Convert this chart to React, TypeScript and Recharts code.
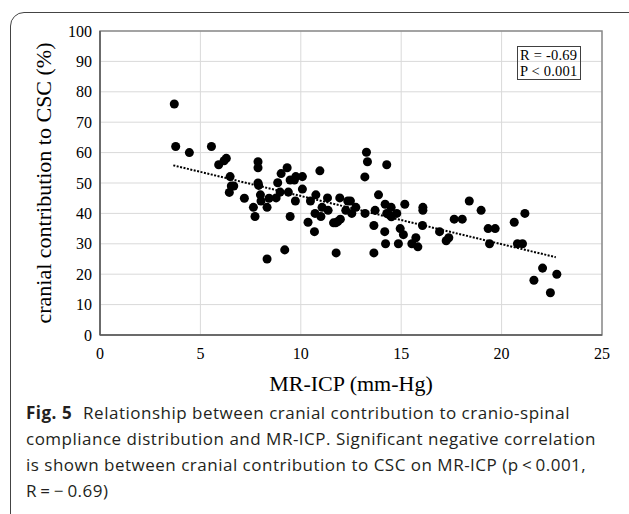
import {
  ScatterChart,
  Scatter,
  XAxis,
  YAxis,
  ZAxis,
  CartesianGrid,
  ReferenceArea,
  ReferenceLine,
  Label,
} from "recharts";

// MR-ICP (mm-Hg) per patient
const icpValues = [
  3.7, 3.77, 4.45, 5.55, 5.91, 6.18, 6.29, 6.48, 6.54, 6.66, 6.44, 7.19, 7.64, 7.72,
  7.87, 7.87, 7.87, 7.9, 7.99, 8.02, 8.32, 8.42, 8.32, 8.77, 8.85, 9.02, 8.97, 9.32,
  9.38, 9.47, 9.2, 9.47, 9.68, 9.75, 10.08, 9.73, 10.08, 10.36, 10.48, 10.68, 10.71,
  10.75, 10.95, 11.0, 11.06, 11.33, 11.36, 11.63, 11.74, 11.84, 11.97, 11.76, 11.94,
  12.24, 12.34, 12.47, 12.54, 12.74, 13.19, 13.27, 13.32, 13.2, 13.64, 13.64, 13.7,
  13.87, 14.18, 14.22, 14.2, 14.28, 14.28, 14.41, 14.5, 14.51, 14.78, 14.86, 14.95,
  15.11, 15.18, 15.53, 15.73, 15.83, 16.08, 16.08, 16.06, 16.91, 17.24, 17.37, 17.64,
  18.04, 18.39, 18.98, 19.33, 19.68, 19.4, 20.63, 21.16, 20.79, 21.04, 22.04, 21.61,
  22.75, 22.43,
];

// cranial contribution to CSC (%)
const cranialValues = [
  76, 62, 60, 62, 56, 57.3, 58.1, 52.1, 49, 49, 46.9, 45, 42, 39,
  57, 55, 50, 49.2, 46.1, 44.1, 42, 45, 25, 45.1, 50.1, 53.1, 47, 55,
  47, 39, 28, 51, 51, 52.1, 52.1, 44.1, 48, 37.1, 44.1, 34, 40,
  46.1, 54, 39, 42, 45.1, 41, 36.9, 36.9, 37.3, 38.1, 27, 45.1,
  41, 44.1, 44.1, 40, 42, 52, 60.1, 57, 40, 36, 27, 41,
  46.1, 34, 30, 43, 56, 40, 39.5, 42, 38.9, 40, 30, 35,
  33, 43, 30, 32, 29, 42, 41, 36, 34, 31, 32, 38.1,
  38.1, 44.1, 41, 35, 35, 30, 37.1, 40, 30, 30, 22, 18,
  20, 13.9,
];

// dotted regression line, end points
const trendX = [3.65, 22.7];
const trendY = [55.8, 25.6];

const xTicks = [0, 5, 10, 15, 20, 25];
const yTicks = [0, 10, 20, 30, 40, 50, 60, 70, 80, 90, 100];

const captionLines = [
  "Relationship between cranial contribution to cranio-spinal",
  "compliance distribution and MR-ICP. Significant negative correlation",
  "is shown between cranial contribution to CSC on MR-ICP (p\u2009<\u20090.001,",
  "R\u2009=\u2009\u2212\u20090.69)",
];

const points = icpValues.map((x, i) => ({ x, y: cranialValues[i] }));

const serif = "'Liberation Serif', 'Times New Roman', serif";
const sans = "'Open Sans', 'Noto Sans', sans-serif";

export default function App() {
  return (
    <div
      style={{
        position: "fixed",
        left: 0,
        top: 0,
        width: 629,
        height: 514,
        overflow: "hidden",
        background: "#fff",
      }}
    >
      <div
        style={{
          position: "absolute",
          left: 10,
          top: 12,
          width: 640,
          height: 520,
          border: "1.5px solid #444",
          borderRadius: 14,
          boxSizing: "border-box",
        }}
      />
      <div style={{ position: "absolute", left: 0, top: 0 }}>
        <ScatterChart
          width={629}
          height={400}
          margin={{ top: 31, right: 27, left: 40, bottom: 35 }}
        >
          <CartesianGrid stroke="#d9d9d9" strokeWidth={1} />
          <XAxis
            type="number"
            dataKey="x"
            domain={[0, 25]}
            ticks={xTicks}
            height={30}
            tickLine={false}
            tickSize={13}
            tickMargin={0}
            axisLine={{ stroke: "#595959", strokeWidth: 1.5 }}
            tick={{ fill: "#000", fontSize: 16, fontFamily: serif }}
          >
            <Label
              value="MR-ICP (mm-Hg)"
              position="bottom"
              offset={10}
              style={{ fill: "#000", fontSize: 22, fontFamily: serif }}
            />
          </XAxis>
          <YAxis
            type="number"
            dataKey="y"
            domain={[0, 100]}
            ticks={yTicks}
            width={60}
            tickLine={false}
            tickSize={8}
            tickMargin={0}
            axisLine={{ stroke: "#595959", strokeWidth: 1.5 }}
            tick={{ fill: "#000", fontSize: 16, fontFamily: serif }}
          >
            <Label
              value="cranial contribution to CSC (%)"
              angle={-90}
              position="insideLeft"
              offset={3}
              style={{ fill: "#000", fontSize: 22, fontFamily: serif, textAnchor: "middle" }}
            />
          </YAxis>
          <ZAxis range={[38, 38]} />
          <ReferenceArea
            x1={0}
            x2={25}
            y1={0}
            y2={100}
            fill="none"
            stroke="#8a8a8a"
            strokeWidth={1.5}
            ifOverflow="visible"
          />
          <ReferenceLine
            segment={[
              { x: trendX[0], y: trendY[0] },
              { x: trendX[1], y: trendY[1] },
            ]}
            stroke="#000"
            strokeWidth={2}
            strokeDasharray="2 1.5"
          />
          <Scatter data={points} fill="#000" isAnimationActive={false} shape="circle" />
        </ScatterChart>
      </div>
      <div
        style={{
          position: "absolute",
          left: 517,
          top: 46,
          width: 64,
          height: 34,
          boxSizing: "border-box",
          border: "1px solid #404040",
          padding: "0 0 0 2px",
          fontFamily: serif,
          fontSize: 14.5,
          lineHeight: "16px",
          letterSpacing: 0.2,
          color: "#000",
          whiteSpace: "nowrap",
        }}
      >
        <div>R = -0.69</div>
        <div>P &lt; 0.001</div>
      </div>
      <div
        style={{
          position: "absolute",
          left: 26,
          top: 400,
          fontFamily: sans,
          fontSize: 17,
          letterSpacing: 0.5,
          lineHeight: "26px",
          color: "#231f20",
          whiteSpace: "nowrap",
        }}
      >
        {captionLines.map((line, i) => (
          <div key={i}>
            {i === 0 && <b style={{ fontWeight: 700, marginRight: 11 }}>Fig. 5</b>}
            {line}
          </div>
        ))}
      </div>
    </div>
  );
}
